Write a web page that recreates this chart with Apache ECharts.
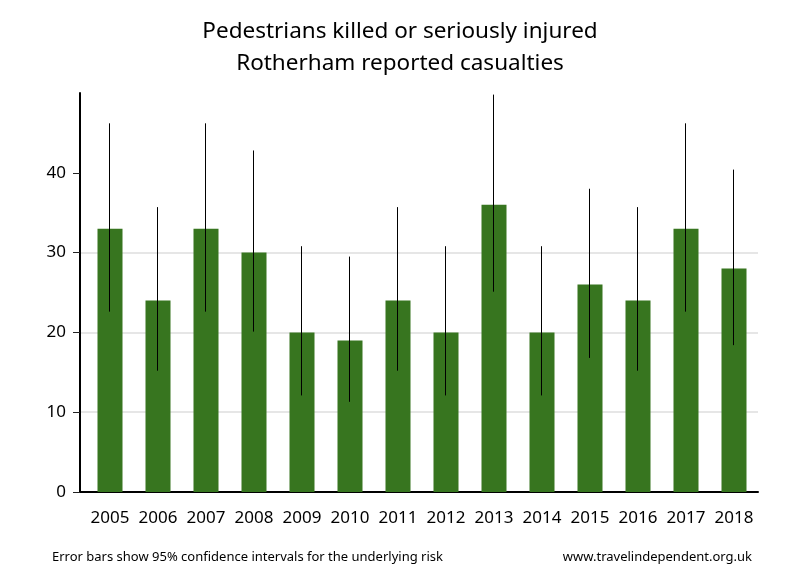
<!DOCTYPE html>
<html>
<head>
<meta charset="utf-8">
<script src="https://cdn.jsdelivr.net/npm/echarts@6/dist/echarts.min.js"></script>
<style>
  html, body { margin: 0; padding: 0; background: #fff; }
  #chart { width: 800px; height: 580px; }
</style>
</head>
<body>
<div id="chart"></div>
<script>
// casualties per year (KSI pedestrians)
const years = [2005, 2006, 2007, 2008, 2009, 2010, 2011, 2012, 2013, 2014, 2015, 2016, 2017, 2018]
const casualties = [33, 24, 33, 30, 20, 19, 24, 20, 36, 20, 26, 24, 33, 28]
// 95% confidence interval ends
const upper = [46.2, 35.7, 46.2, 42.8, 30.8, 29.5, 35.7, 30.8, 49.8, 30.8, 38.0, 35.7, 46.2, 40.4]
const lower = [22.6, 15.2, 22.6, 20.1, 12.1, 11.3, 15.2, 12.1, 25.1, 12.1, 16.8, 15.2, 22.6, 18.4]
const yTicks = [0, 10, 20, 30, 40]

const font = '"Noto Sans", "Open Sans", sans-serif'

const chart = echarts.init(document.getElementById('chart'))

const barData = years.map((y, i) => [y, casualties[i]])
const errData = years.map((y, i) => [y, upper[i], lower[i]])

chart.setOption({
    animation: false,
    backgroundColor: '#fff',
    title: [
        {
            text: 'Pedestrians killed or seriously injured\nRotherham reported casualties',
            left: 'center',
            top: 11,
            textStyle: {
                fontFamily: font,
                fontSize: 22.5,
                fontWeight: 'normal',
                color: '#000',
                lineHeight: 32
            }
        },
        {
            text: 'Error bars show 95% confidence intervals for the underlying risk',
            left: 47,
            top: 546,
            textStyle: { fontFamily: font, fontSize: 13, fontWeight: 'normal', color: '#000' }
        },
        {
            text: 'www.travelindependent.org.uk',
            right: 43,
            top: 546,
            textStyle: { fontFamily: font, fontSize: 13, fontWeight: 'normal', color: '#000' }
        }
    ],
    grid: {
        left: 80,
        right: 42,
        top: 93,
        bottom: 88,
        containLabel: false
    },
    xAxis: {
        type: 'value',
        min: years[0] - 0.625,
        max: years[years.length - 1] + 0.5,
        splitLine: { show: false },
        axisLine: { show: true, onZero: false, lineStyle: { color: '#000', width: 2 } },
        axisTick: { show: false },
        axisLabel: {
            customValues: years,
            margin: 18,
            fontFamily: font,
            fontSize: 17,
            color: '#000',
            formatter: v => String(v)
        }
    },
    yAxis: {
        type: 'value',
        min: 0,
        max: 50,
        interval: 10,
        axisLine: { show: true, lineStyle: { color: '#000', width: 2 } },
        axisTick: { show: true, length: 7, customValues: yTicks, lineStyle: { color: '#222', width: 1 } },
        axisLabel: {
            customValues: yTicks,
            margin: 14,
            fontFamily: font,
            fontSize: 17,
            color: '#000'
        },
        splitLine: {
            show: true,
            showMinLine: false,
            showMaxLine: false,
            lineStyle: { color: '#e6e6e6', width: 2 }
        }
    },
    series: [
        {
            type: 'bar',
            data: barData,
            barWidth: 25,
            itemStyle: { color: '#37751f' },
            z: 2
        },
        {
            type: 'custom',
            data: errData,
            z: 3,
            renderItem: (params, api) => {
                const x = api.value(0)
                const hi = api.coord([x, api.value(1)])
                const lo = api.coord([x, api.value(2)])
                const px = Math.round(hi[0]) - 0.5
                return {
                    type: 'line',
                    shape: { x1: px, y1: hi[1], x2: px, y2: lo[1] },
                    style: { stroke: '#000', lineWidth: 1 }
                }
            }
        }
    ]
})
</script>
</body>
</html>
